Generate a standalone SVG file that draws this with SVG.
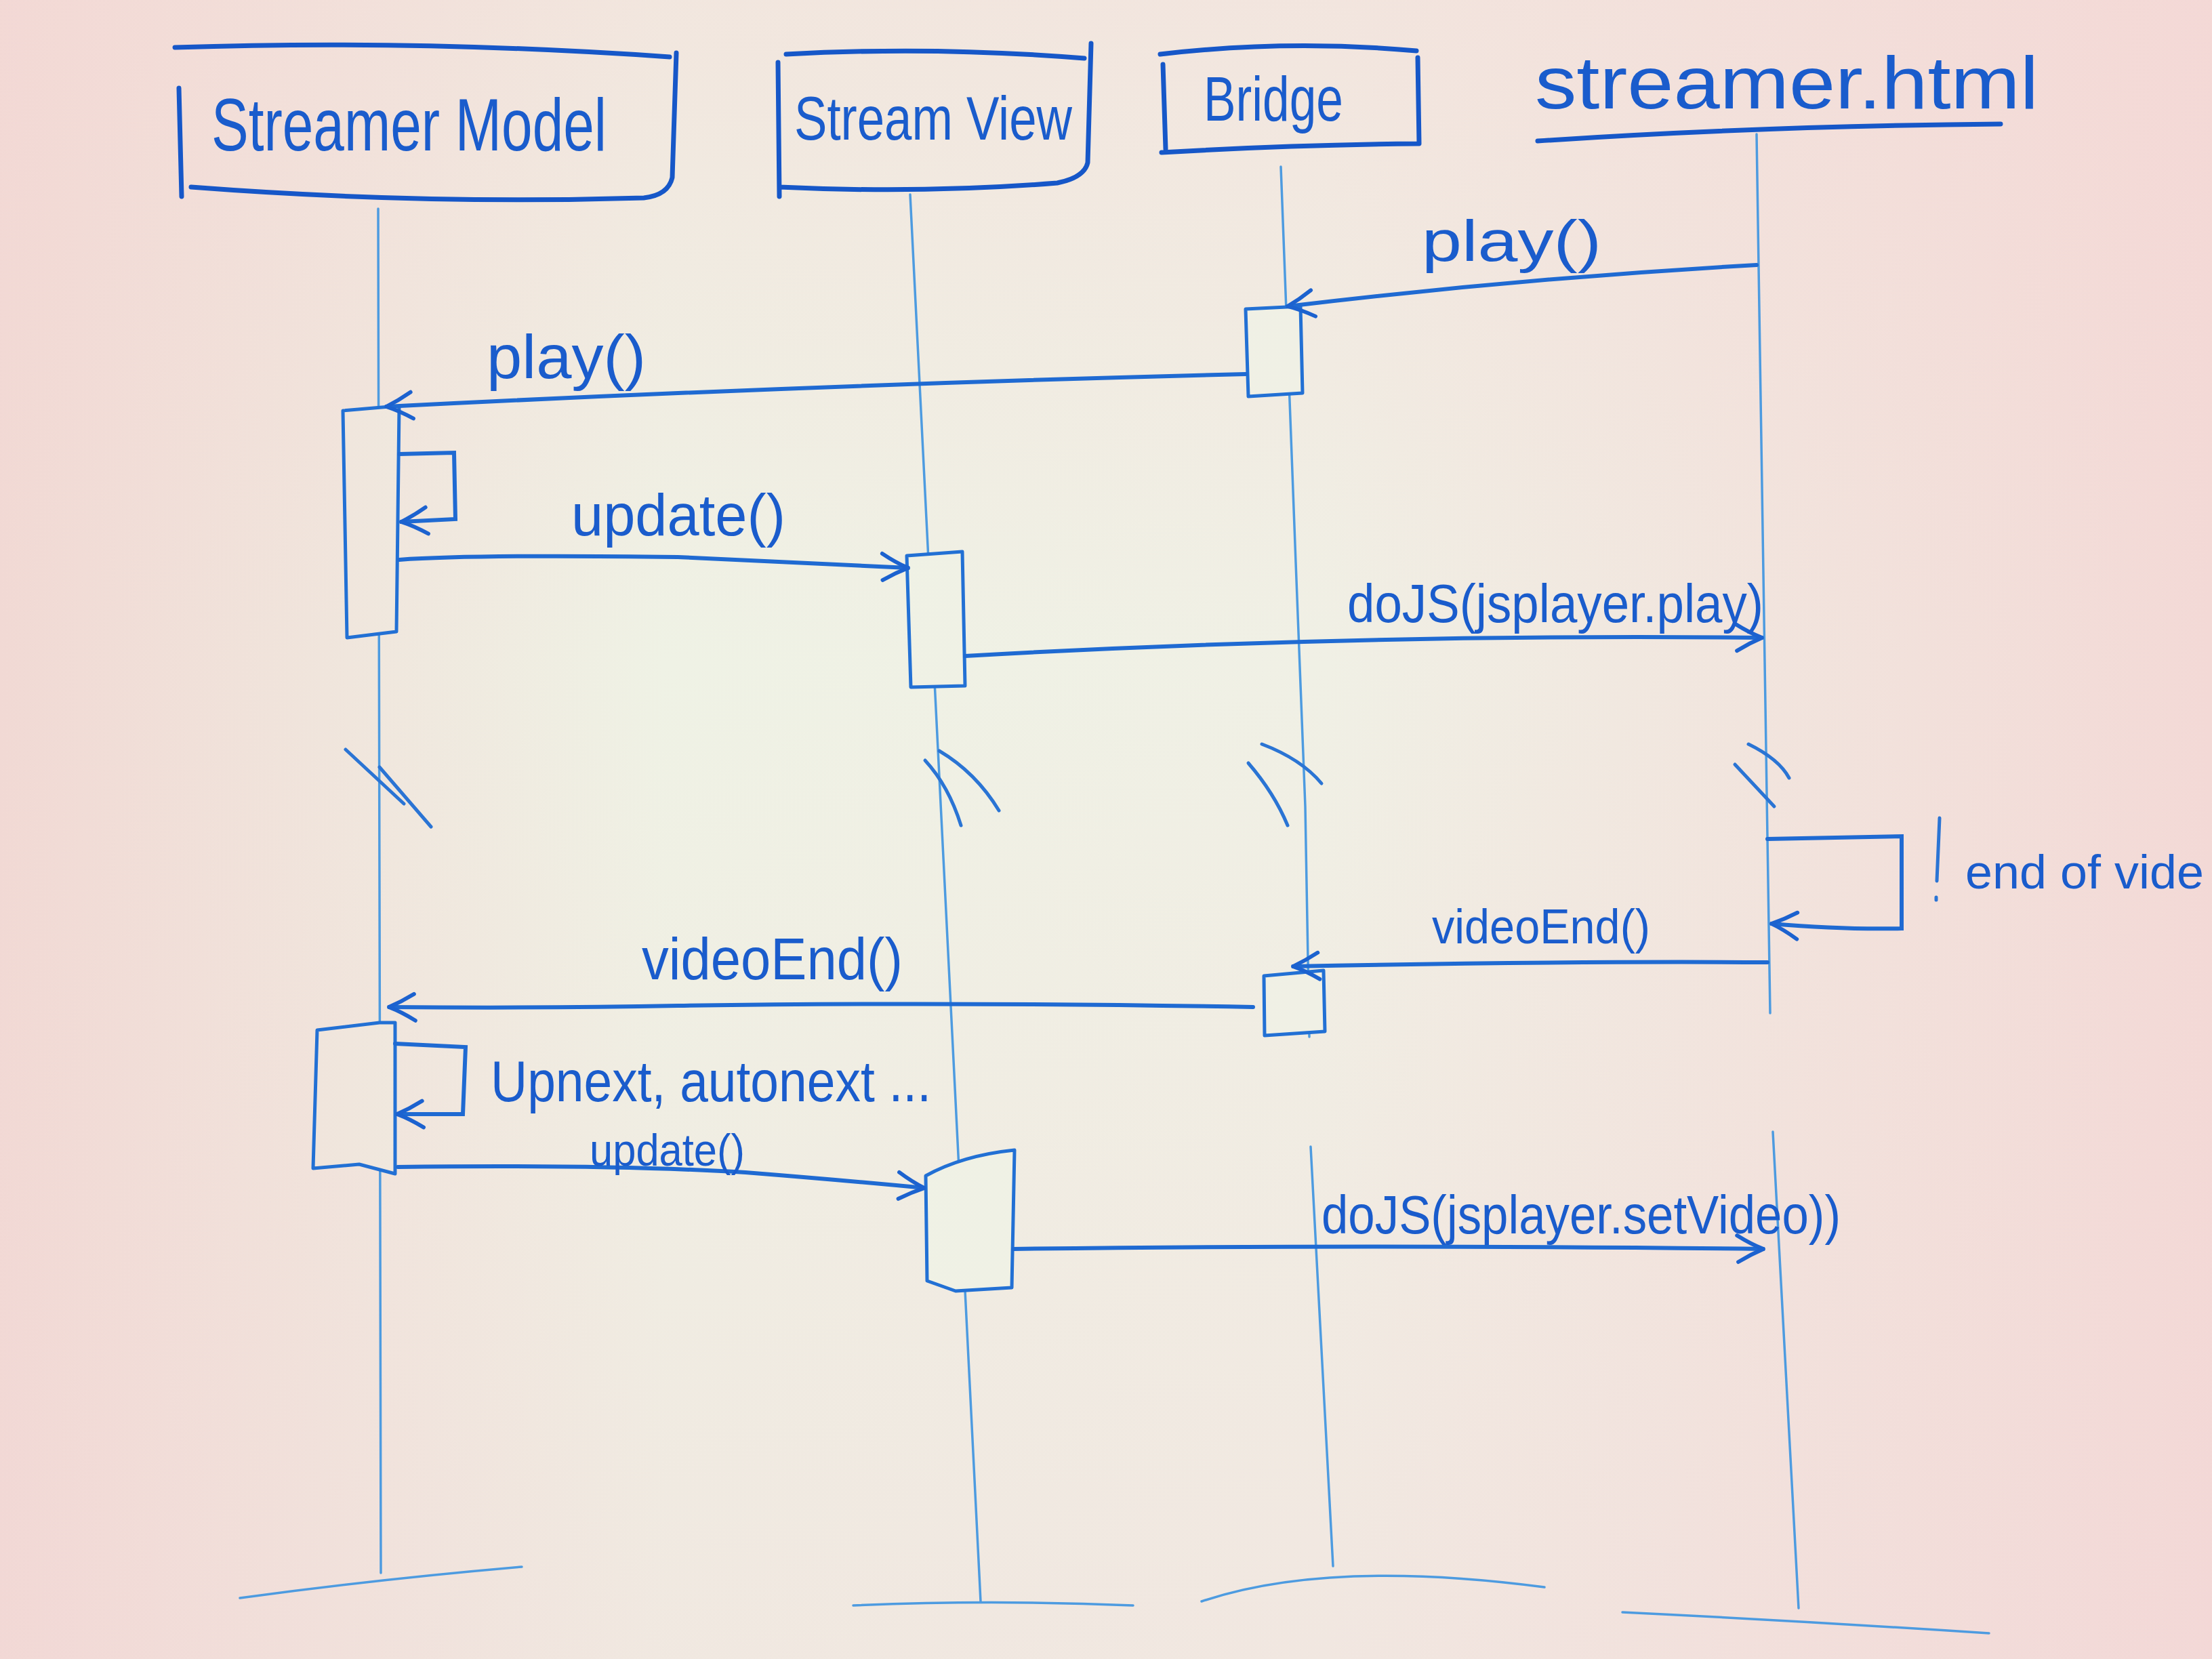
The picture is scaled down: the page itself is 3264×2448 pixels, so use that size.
<svg xmlns="http://www.w3.org/2000/svg" width="3264" height="2448" viewBox="0 0 3264 2448">
<defs>
<linearGradient id="bg" gradientUnits="userSpaceOnUse" x1="0" y1="0" x2="3264" y2="0">
<stop offset="0" stop-color="#f1d9d4"/>
<stop offset="0.3" stop-color="#eff2e5"/>
<stop offset="0.6" stop-color="#f0f0e5"/>
<stop offset="1" stop-color="#f3d9d6"/>
</linearGradient>
<linearGradient id="vt" x1="0" y1="0" x2="0" y2="1">
<stop offset="0" stop-color="#f5d8d6" stop-opacity="0.45"/>
<stop offset="0.4" stop-color="#f5d8d6" stop-opacity="0"/>
<stop offset="1" stop-color="#f3d6d8" stop-opacity="0.35"/>
</linearGradient>
<marker id="arr" viewBox="0 0 40 40" refX="38" refY="20" markerWidth="46" markerHeight="46" markerUnits="userSpaceOnUse" orient="auto">
<path d="M4,3 Q22,14 38,20 Q22,27 6,37" fill="none" stroke="#1c62cf" stroke-width="5" stroke-linecap="round"/>
</marker>
<style>
.ink{fill:none;stroke:#1657c8;stroke-width:7;stroke-linecap:round;stroke-linejoin:round}
.msg{fill:none;stroke:#1f6ad2;stroke-width:6;stroke-linecap:round;marker-end:url(#arr)}
.life{fill:none;stroke:#4d9be0;stroke-width:3.5;stroke-linecap:round}
.act{fill:url(#bg);stroke:#2270d4;stroke-width:5;stroke-linejoin:round}
.brk{fill:none;stroke:#2a74d4;stroke-width:5;stroke-linecap:round}
.t{font-family:"Liberation Sans","DejaVu Sans",sans-serif;fill:#1a5ccc}
</style>
</defs>
<rect width="3264" height="2448" fill="url(#bg)"/>
<rect width="3264" height="2448" fill="url(#vt)"/>

<g id="node-streamer-model">
<path class="ink" d="M258,70 Q620,58 988,84 M998,78 L992,262 Q986,288 950,292 Q620,302 282,276 M264,130 L268,290"/>
<text class="t" x="312" y="222" font-size="110" textLength="583" lengthAdjust="spacingAndGlyphs">Streamer Model</text>
<path class="life" d="M558,308 L562,2321"/>
<path class="life" d="M354,2358 Q560,2330 770,2312"/>
</g>

<g id="node-stream-view">
<path class="ink" d="M1160,80 Q1380,68 1600,86 M1610,64 L1605,240 Q1600,262 1560,270 Q1360,286 1150,276 M1148,92 L1150,290"/>
<text class="t" x="1172" y="206" font-size="90" textLength="410" lengthAdjust="spacingAndGlyphs">Stream View</text>
<path class="life" d="M1343,287 L1447,2363"/>
<path class="life" d="M1259,2369 Q1460,2360 1672,2369"/>
</g>

<g id="node-bridge">
<path class="ink" d="M1712,80 Q1900,58 2090,75 M2092,85 L2094,212 M1716,95 L1720,220 M1714,225 Q1900,214 2092,212"/>
<text class="t" x="1776" y="178" font-size="92" textLength="206" lengthAdjust="spacingAndGlyphs">Bridge</text>
<path class="life" d="M1890,246 L1912,830 L1926,1190 L1932,1530 M1934,1692 L1967,2311"/>
<path class="life" d="M1773,2363 Q1960,2300 2279,2342"/>
</g>

<g id="node-streamer-html">
<text class="t" x="2265" y="160" font-size="110" textLength="743" lengthAdjust="spacingAndGlyphs">streamer.html</text>
<path class="ink" d="M2269,208 Q2600,186 2952,183"/>
<path class="life" d="M2592,198 L2612,1495 M2616,1670 L2654,2373"/>
<path class="life" d="M2394,2379 Q2660,2392 2935,2410"/>
</g>

<g id="activations">
<path class="act" d="M1838,456 L1919,452 L1922,580 L1842,585 Z"/>
<path class="act" d="M575,600 L506,606 L512,941 L585,932 L589,600 Z"/>
<path class="act" d="M1338,820 L1420,814 L1424,1012 L1344,1014 Z"/>
<path class="act" d="M1865,1440 L1953,1432 L1955,1522 L1866,1528 Z"/>
<path class="act" d="M560,1509 L468,1520 L462,1724 L530,1718 L583,1732 L583,1509 Z"/>
<path class="act" d="M1366,1735 Q1420,1705 1497,1697 L1493,1900 L1410,1905 L1368,1890 Z"/>
</g>

<g id="connectors">
<path class="msg" d="M2592,391 Q2250,410 1900,452"/>
<text class="t" x="2098" y="385" font-size="85" textLength="265" lengthAdjust="spacingAndGlyphs">play()</text>

<path class="msg" d="M1838,552 Q1200,568 570,600"/>
<text class="t" x="718" y="558" font-size="90" textLength="235" lengthAdjust="spacingAndGlyphs">play()</text>

<path class="msg" d="M589,670 L670,668 L672,766 L592,770"/>

<path class="msg" d="M589,826 Q700,818 1000,822 Q1200,832 1340,838"/>
<text class="t" x="843" y="790" font-size="88" textLength="316" lengthAdjust="spacingAndGlyphs">update()</text>

<path class="msg" d="M1424,968 Q2000,935 2600,941"/>
<text class="t" x="1988" y="918" font-size="80" textLength="614" lengthAdjust="spacingAndGlyphs">doJS(jsplayer.play)</text>

<path class="brk" d="M510,1106 L596,1186 M560,1132 L636,1220"/>
<path class="brk" d="M1365,1122 Q1400,1160 1418,1218 M1386,1108 Q1440,1140 1474,1196"/>
<path class="brk" d="M1842,1126 Q1880,1170 1900,1218 M1862,1098 Q1920,1120 1950,1156"/>
<path class="brk" d="M2560,1128 Q2590,1160 2618,1190 M2580,1098 Q2625,1120 2640,1148"/>

<path class="msg" d="M2608,1238 L2806,1234 L2806,1370 Q2720,1372 2614,1363"/>
<path class="brk" d="M2862,1207 L2858,1300 M2857,1324 L2857,1328"/>
<text class="t" x="2900" y="1311" font-size="70" textLength="352" lengthAdjust="spacingAndGlyphs">end of vide</text>

<path class="msg" d="M2608,1420 Q2300,1418 1908,1426"/>
<text class="t" x="2113" y="1392" font-size="72" textLength="322" lengthAdjust="spacingAndGlyphs">videoEnd()</text>

<path class="msg" d="M1849,1486 Q1400,1478 1000,1484 Q800,1488 574,1486"/>
<text class="t" x="947" y="1445" font-size="88" textLength="385" lengthAdjust="spacingAndGlyphs">videoEnd()</text>

<path class="msg" d="M583,1540 L687,1545 L683,1644 L586,1644"/>
<text class="t" x="724" y="1625" font-size="85" textLength="650" lengthAdjust="spacingAndGlyphs">Upnext, autonext ...</text>

<path class="msg" d="M587,1722 Q900,1718 1100,1730 Q1250,1742 1364,1753"/>
<text class="t" x="870" y="1720" font-size="66" textLength="229" lengthAdjust="spacingAndGlyphs">update()</text>

<path class="msg" d="M1495,1843 Q2000,1836 2602,1843"/>
<text class="t" x="1950" y="1820" font-size="80" textLength="766" lengthAdjust="spacingAndGlyphs">doJS(jsplayer.setVideo))</text>
</g>
</svg>
